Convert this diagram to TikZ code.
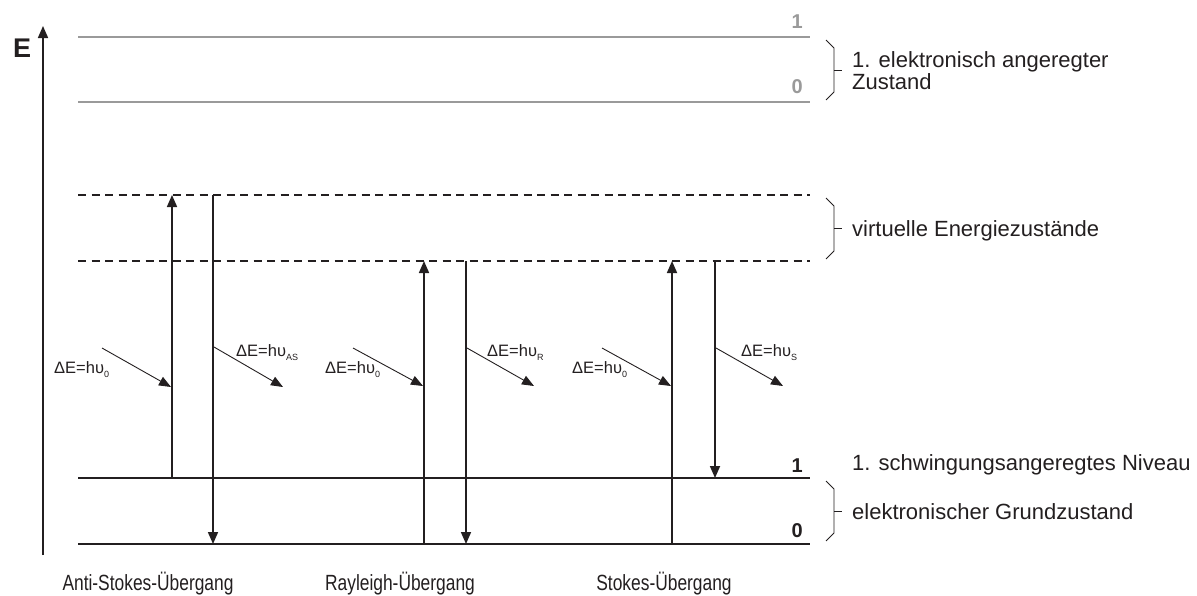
\documentclass[tikz,border=0pt]{standalone}
\usepackage{fontspec}
\setmainfont{Liberation Sans}
\usetikzlibrary{arrows.meta}
\definecolor{ink}{HTML}{231F20}
\definecolor{lgray}{HTML}{9A9A9A}
\newcommand{\mysub}[1]{\raisebox{-0.3em}{\fontsize{9}{9}\selectfont #1}}
\newcommand{\narrowtext}[1]{\scalebox{0.79}[1]{#1}}
\begin{document}
\begin{tikzpicture}[x=1pt,y=-1pt,
  lvl/.style={line width=1.8pt, draw=ink},
  glvl/.style={line width=1.8pt, draw=lgray},
  vlvl/.style={line width=1.5pt, draw=ink, dash pattern=on 8pt off 5.5pt},
  trans/.style={line width=1.7pt, draw=ink, -{Triangle[length=12pt,width=10pt]}},
  photon/.style={line width=0.9pt, draw=ink, -{Triangle[length=12pt,width=9.5pt]}},
  brace/.style={line width=0.8pt, draw=ink},
  lab/.style={font=\fontsize{22}{22}\selectfont, anchor=base west, inner sep=0pt, text=ink},
  num/.style={font=\bfseries\fontsize{20}{20}\selectfont, anchor=base east, inner sep=0pt},
  de/.style={font=\fontsize{16.5}{16.5}\selectfont, anchor=base west, inner sep=0pt, text=ink},
  blab/.style={font=\fontsize{22}{22}\selectfont, anchor=base, inner sep=0pt, text=ink}]
\useasboundingbox (0,0) rectangle (1197,595);

% energy axis
\coordinate (ax0) at (43,555);
\coordinate (ax1) at (43,26);
\draw[line width=1.7pt, draw=ink, -{Triangle[length=12pt,width=10pt]}] (ax0) -- (ax1);
\node[font=\bfseries\fontsize{27}{27}\selectfont, anchor=base west, inner sep=0pt, text=ink] (E) at (13,57) {E};

% level endpoints
\coordinate (e1L) at (78,37);  \coordinate (e1R) at (810,37);
\coordinate (e0L) at (78,102); \coordinate (e0R) at (810,102);
\coordinate (v1L) at (78,195); \coordinate (v1R) at (810,195);
\coordinate (v0L) at (78,261); \coordinate (v0R) at (810,261);
\coordinate (g1L) at (78,478); \coordinate (g1R) at (810,478);
\coordinate (g0L) at (78,544); \coordinate (g0R) at (810,544);

\draw[glvl] (e1L) -- (e1R);
\draw[glvl] (e0L) -- (e0R);
\draw[vlvl] (v1L) -- (v1R);
\draw[vlvl] (v0L) -- (v0R);
\draw[lvl] (g1L) -- (g1R);
\draw[lvl] (g0L) -- (g0R);

% level numbers
\node[num, text=lgray] (ne1) at (803,28) {1};
\node[num, text=lgray] (ne0) at (803,93) {0};
\node[num, text=ink] (ng1) at (803,472) {1};
\node[num, text=ink] (ng0) at (803,537) {0};

% braces
\draw[brace] (826,40) -- (834,48) -- (834,92) -- (826,100);
\draw[brace] (834,70) -- (842,70);
\draw[brace] (826,198) -- (834,206) -- (834,251) -- (826,259);
\draw[brace] (834,228) -- (842,228);
\draw[brace] (826,481) -- (834,489) -- (834,533) -- (826,541);
\draw[brace] (834,511) -- (842,511);

% right labels
\node[lab, align=left, anchor=north west] (lexc) at (852,51) {1. elektronisch angeregter\\Zustand};
\node[lab] (lvirt) at (852,236) {virtuelle Energiezustände};
\node[lab] (lvib) at (852,470.5) {1. schwingungsangeregtes Niveau};
\node[lab] (lgrd) at (852,519.5) {elektronischer Grundzustand};

% transition endpoints
\coordinate (asU0) at (172,478); \coordinate (asU1) at (172,195);
\coordinate (asD0) at (213,195); \coordinate (asD1) at (213,544);
\coordinate (rU0) at (424,544);  \coordinate (rU1) at (424,261);
\coordinate (rD0) at (466,261);  \coordinate (rD1) at (466,544);
\coordinate (sU0) at (672,544);  \coordinate (sU1) at (672,261);
\coordinate (sD0) at (715,261);  \coordinate (sD1) at (715,478);

\draw[trans] (asU0) -- (asU1);
\draw[trans] (asD0) -- (asD1);
\draw[trans] (rU0) -- (rU1);
\draw[trans] (rD0) -- (rD1);
\draw[trans] (sU0) -- (sU1);
\draw[trans] (sD0) -- (sD1);

% photons
\coordinate (pa1) at (102,348); \coordinate (pa2) at (171,387);
\coordinate (pa3) at (214,347); \coordinate (pa4) at (283,387);
\coordinate (pr1) at (353,348); \coordinate (pr2) at (423,386);
\coordinate (pr3) at (467,348); \coordinate (pr4) at (534,386);
\coordinate (ps1) at (602,348); \coordinate (ps2) at (671,386);
\coordinate (ps3) at (716,348); \coordinate (ps4) at (783,386);
\draw[photon] (pa1) -- (pa2);
\draw[photon] (pa3) -- (pa4);
\draw[photon] (pr1) -- (pr2);
\draw[photon] (pr3) -- (pr4);
\draw[photon] (ps1) -- (ps2);
\draw[photon] (ps3) -- (ps4);

% photon labels
\node[de] (da1) at (54,373) {ΔE=hυ\mysub{0}};
\node[de] (da2) at (236,356) {ΔE=hυ\mysub{AS}};
\node[de] (dr1) at (325,373) {ΔE=hυ\mysub{0}};
\node[de] (dr2) at (487,356) {ΔE=hυ\mysub{R}};
\node[de] (ds1) at (572,373) {ΔE=hυ\mysub{0}};
\node[de] (ds2) at (741,356) {ΔE=hυ\mysub{S}};

% bottom labels
\node[blab] (bas) at (148,590) {\narrowtext{Anti-Stokes-Übergang}};
\node[blab] (bra) at (400,590) {\narrowtext{Rayleigh-Übergang}};
\node[blab] (bst) at (664,590) {\narrowtext{Stokes-Übergang}};
\end{tikzpicture}
\end{document}
